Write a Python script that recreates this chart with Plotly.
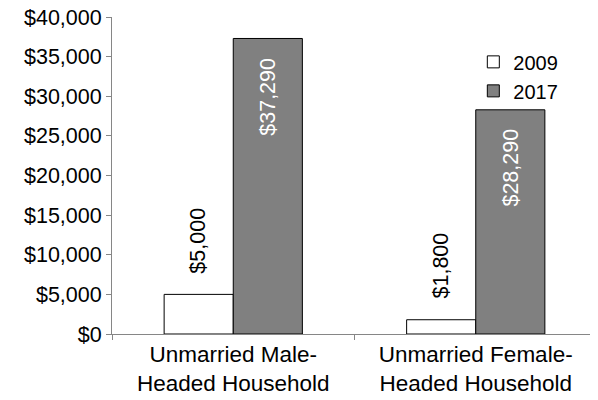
import plotly.graph_objects as go

categories = ["Unmarried Male-<br>Headed Household", "Unmarried Female-<br>Headed Household"]
values_2009 = [5000, 1800]
values_2017 = [37290, 28290]
tick_vals = [0, 5000, 10000, 15000, 20000, 25000, 30000, 35000, 40000]
tick_text = ["$0", "$5,000", "$10,000", "$15,000", "$20,000", "$25,000", "$30,000", "$35,000", "$40,000"]

FONT = "Liberation Sans, Arial, sans-serif"
FS = 21.5
BAR_OFFSET_PX = 35

fig = go.Figure()
fig.add_trace(go.Bar(
    name="2009", x=categories, y=values_2009,
    marker=dict(color="white", line=dict(color="black", width=1)),
))
fig.add_trace(go.Bar(
    name="2017", x=categories, y=values_2017,
    marker=dict(color="#808080", line=dict(color="black", width=1)),
))

for c, v in zip(categories, values_2009):
    fig.add_annotation(x=c, y=v, xref="x", yref="y", text=f"${v:,}", showarrow=False,
                       textangle=-90, xanchor="center", yanchor="bottom",
                       xshift=-BAR_OFFSET_PX, yshift=19,
                       font=dict(color="black", size=FS, family=FONT))
for c, v in zip(categories, values_2017):
    fig.add_annotation(x=c, y=v, xref="x", yref="y", text=f"${v:,}", showarrow=False,
                       textangle=-90, xanchor="center", yanchor="top",
                       xshift=BAR_OFFSET_PX, yshift=-17,
                       font=dict(color="white", size=FS, family=FONT))

# page body has an 8px margin, so the figure is 8px smaller and margins shifted
fig.update_layout(
    width=590, height=392,
    margin=dict(l=104, r=1, t=9, b=66),
    paper_bgcolor="white", plot_bgcolor="white",
    barmode="group", bargap=0.43, bargroupgap=0,
    font=dict(family=FONT, size=FS, color="black"),
    showlegend=True,
    legend=dict(x=0.745, y=0.92, xanchor="left", yanchor="top", bgcolor="rgba(0,0,0,0)",
                font=dict(size=20), tracegroupgap=0),
    xaxis=dict(showline=True, linecolor="#868686", linewidth=1, ticks="outside", tickson="boundaries",
               ticklen=5, tickcolor="#868686", showgrid=False, tickfont=dict(size=22.5), automargin=False,
               ticklabeloverflow="allow"),
    yaxis=dict(range=[0, 40000], tickvals=tick_vals, ticktext=tick_text, showline=True,
               linecolor="#868686", linewidth=1, ticks="outside", ticklen=5, tickcolor="#868686",
               showgrid=False, zeroline=False, tickfont=dict(size=FS), automargin=False,
               ticklabeloverflow="allow"),
)
fig.write_html("out.html")
